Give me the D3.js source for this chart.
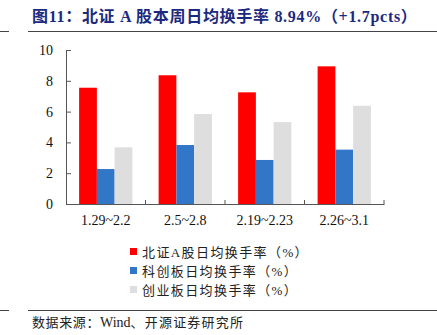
<!DOCTYPE html>
<html><head><meta charset="utf-8">
<script src="https://cdn.jsdelivr.net/npm/d3@7"></script>
<style>
html,body{margin:0;padding:0;background:#fff;}
svg{display:block;}
</style>
</head><body>
<svg id="c" width="437" height="335"></svg>
<script>
const categories = ["1.29~2.2", "2.5~2.8", "2.19~2.23", "2.26~3.1"];
const seriesNames = ["北证A股日均换手率（%）", "科创板日均换手率（%）", "创业板日均换手率（%）"];
const bseValues = [7.55, 8.36, 7.25, 8.94];
const starValues = [2.27, 3.83, 2.86, 3.53];
const chinextValues = [3.68, 5.84, 5.32, 6.38];
const seriesColors = ["#ff0000", "#3276c8", "#dedede"];
const yTicks = [0, 2, 4, 6, 8, 10];
const titleText = "图11：北证 A 股本周日均换手率 8.94%（+1.7pcts）";
const sourceParts = ["数据来源：", "Wind", "、开源证券研究所"];

const series = [bseValues, starValues, chinextValues];
const svg = d3.select("#c");
const serif = "'Times New Roman','Liberation Serif','Noto Sans CJK SC',serif";
const cjk = "'Liberation Serif','Noto Sans CJK SC',serif";

// title
svg.append("text").attr("x", 32).attr("y", 22)
  .attr("font-family", serif).attr("font-weight", "bold").attr("font-size", 16)
  .attr("letter-spacing", 0.7)
  .attr("fill", "#1b2a80").text(titleText);
// top rules
svg.append("line").attr("x1", 0).attr("x2", 9).attr("y1", 31.5).attr("y2", 31.5).attr("stroke", "#444").attr("stroke-width", 1);
svg.append("line").attr("x1", 28).attr("x2", 437).attr("y1", 31.5).attr("y2", 31.5).attr("stroke", "#444").attr("stroke-width", 1);

const x0 = d3.scaleBand().domain(categories).range([66, 384]).paddingInner(0.33).paddingOuter(0.165);
const x1 = d3.scaleBand().domain(d3.range(series.length)).range([0, x0.bandwidth()]);
const y = d3.scaleLinear().domain([0, 10]).range([204, 50]);

// bars
categories.forEach((c, i) => {
  series.forEach((s, j) => {
    svg.append("rect")
      .attr("x", x0(c) + x1(j)).attr("width", x1.bandwidth())
      .attr("y", y(s[i])).attr("height", y(0) - y(s[i]))
      .attr("fill", seriesColors[j]);
  });
});

// y axis
const yAxis = svg.append("g").attr("transform", "translate(66,0)")
  .call(d3.axisLeft(y).tickValues(yTicks).tickSizeInner(-5).tickSizeOuter(0).tickPadding(13));
yAxis.select(".domain").attr("stroke", "#555");
yAxis.selectAll(".tick line").attr("stroke", "#555");
yAxis.selectAll("text").attr("font-family", serif).attr("font-size", 14).attr("fill", "#111");

// x axis
const xAxis = svg.append("g").attr("transform", "translate(0,204)")
  .call(d3.axisBottom(x0).tickSize(0).tickPadding(11));
xAxis.select(".domain").attr("stroke", "#555");
xAxis.selectAll("text").attr("font-family", serif).attr("font-size", 14).attr("fill", "#111");
// boundary ticks (inward)
const step = x0.step();
const bounds = categories.map((c, i) => x0(c) - x0.paddingInner() * step / 2 + step);
svg.append("g").selectAll("line").data(bounds).join("line")
  .attr("x1", d => d).attr("x2", d => d).attr("y1", 204).attr("y2", 200)
  .attr("stroke", "#555");

// legend
const lg = svg.append("g");
seriesNames.forEach((n, j) => {
  const yy = 252 + j * 19;
  lg.append("rect").attr("x", 130).attr("y", yy - 4).attr("width", 7).attr("height", 7).attr("fill", seriesColors[j]);
  lg.append("text").attr("x", 142).attr("y", yy + 5)
    .attr("font-family", cjk).attr("font-size", 13).attr("letter-spacing", 1.4)
    .attr("fill", "#222").text(n);
});

// bottom rules
svg.append("line").attr("x1", 0).attr("x2", 9).attr("y1", 310.5).attr("y2", 310.5).attr("stroke", "#444");
svg.append("line").attr("x1", 28).attr("x2", 437).attr("y1", 310.5).attr("y2", 310.5).attr("stroke", "#444");
const src = svg.append("text").attr("x", 32).attr("y", 327)
  .attr("font-family", cjk).attr("font-size", 13).attr("fill", "#222");
src.append("tspan").attr("letter-spacing", 0.6).text(sourceParts[0]);
src.append("tspan").attr("font-family", serif).attr("font-size", 14).attr("letter-spacing", 0).text(sourceParts[1]);
src.append("tspan").attr("letter-spacing", 1.2).text(sourceParts[2]);
</script>
</body></html>
